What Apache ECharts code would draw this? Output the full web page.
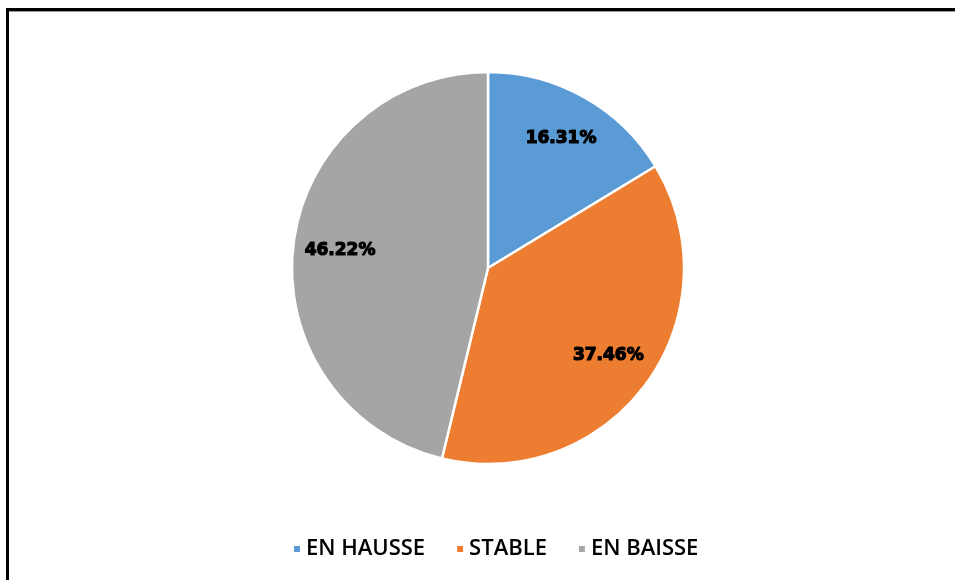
<!DOCTYPE html>
<html>
<head>
<meta charset="utf-8">
<script src="https://cdn.jsdelivr.net/npm/echarts@6/dist/echarts.min.js"></script>
<style>
  html, body { margin: 0; padding: 0; background: #fff; overflow: hidden; width: 955px; height: 580px; }
  #frame {
    position: absolute; left: 6px; top: 8px; width: 946px; height: 572px;
    border-left: 3px solid #000; border-top: 3px solid #000;
    border-right: none; border-bottom: none;
    box-shadow: inset 0 1px 0 #999;
  }
  #chart { position: absolute; left: 0; top: 0; width: 955px; height: 580px; }
</style>
</head>
<body>
<div id="frame"></div>
<div id="chart"></div>
<script>
var categories = ['EN HAUSSE', 'STABLE', 'EN BAISSE'];
var values = [16.31, 37.46, 46.22];
var colors = ['#5B9BD5', '#ED7D31', '#A5A5A5'];

var myChart = echarts.init(document.getElementById('chart'));

var pieData = categories.map(function(name, i) {
    return { name: name, value: values[i], itemStyle: { color: colors[i] } };
});

var option = {
    animation: false,
    legend: {
        data: categories,
        bottom: 15,
        left: 287,
        itemWidth: 8,
        itemHeight: 8,
        itemGap: 30,
        icon: 'rect',
        textStyle: {
            fontFamily: 'Open Sans',
            fontWeight: 600,
            fontSize: 22,
            color: '#000'
        }
    },
    series: [{
        name: 'main',
        type: 'pie',
        center: [488, 268],
        radius: [0, 196],
        startAngle: 90,
        clockwise: true,
        label: { show: false },
        labelLine: { show: false },
        itemStyle: { borderColor: '#fff', borderWidth: 2.5 },
        emphasis: { disabled: true },
        data: pieData
    }, {
        // transparent ring, only used to push the labels further out
        name: 'labels',
        type: 'pie',
        center: [488, 268],
        radius: [96, 196],
        startAngle: 90,
        clockwise: true,
        silent: true,
        itemStyle: { color: 'rgba(0,0,0,0)', borderWidth: 0 },
        label: {
            show: true,
            position: 'inside',
            formatter: function(p) { return p.value.toFixed(2) + '%'; },
            fontFamily: 'DejaVu Sans',
            fontWeight: 'bold',
            fontSize: 17,
            color: '#000',
            textBorderColor: '#000',
            textBorderWidth: 1.2
        },
        labelLine: { show: false },
        emphasis: { disabled: true },
        data: categories.map(function(name, i) {
            return { name: name, value: values[i] };
        })
    }]
};

myChart.setOption(option);
</script>
</body>
</html>
